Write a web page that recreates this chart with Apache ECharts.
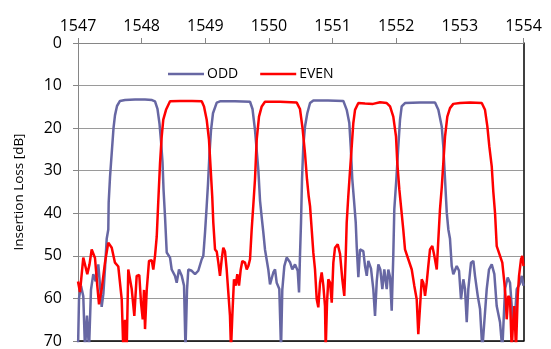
<!DOCTYPE html>
<html>
<head>
<meta charset="utf-8">
<script src="https://cdn.jsdelivr.net/npm/echarts@6/dist/echarts.min.js"></script>
<style>html,body{margin:0;padding:0;background:#fff}#c{width:551px;height:349px}</style>
</head>
<body>
<div id="c"></div>
<script>
const xTicks = [1547, 1548, 1549, 1550, 1551, 1552, 1553, 1554];
const yTicks = [0, 10, 20, 30, 40, 50, 60, 70];
const seriesNames = ['ODD', 'EVEN'];

const oddWl = [1547.000,1547.016,1547.047,1547.083,1547.110,1547.141,1547.173,1547.204,1547.240,1547.278,1547.319,1547.346,1547.372,1547.398,1547.424,1547.451,1547.476,1547.482,1547.503,1547.534,1547.558,1547.581,1547.613,1547.660,1547.739,1547.896,1548.053,1548.163,1548.210,1548.249,1548.281,1548.304,1548.328,1548.344,1548.367,1548.394,1548.446,1548.472,1548.524,1548.551,1548.587,1548.630,1548.666,1548.689,1548.713,1548.733,1548.787,1548.839,1548.890,1548.944,1548.969,1548.996,1549.022,1549.043,1549.066,1549.090,1549.121,1549.180,1549.231,1549.467,1549.703,1549.742,1549.781,1549.833,1549.860,1549.887,1549.912,1549.938,1549.990,1550.017,1550.048,1550.069,1550.096,1550.122,1550.163,1550.190,1550.210,1550.242,1550.279,1550.331,1550.367,1550.410,1550.452,1550.473,1550.488,1550.504,1550.520,1550.540,1550.567,1550.603,1550.646,1550.698,1550.929,1551.169,1551.222,1551.263,1551.285,1551.310,1551.337,1551.364,1551.379,1551.405,1551.431,1551.483,1551.510,1551.537,1551.562,1551.604,1551.640,1551.667,1551.694,1551.719,1551.750,1551.782,1551.813,1551.851,1551.876,1551.903,1551.929,1551.954,1551.970,1552.002,1552.033,1552.060,1552.086,1552.138,1552.374,1552.610,1552.662,1552.715,1552.740,1552.767,1552.794,1552.819,1552.845,1552.872,1552.897,1552.951,1552.987,1553.018,1553.055,1553.081,1553.108,1553.133,1553.175,1553.212,1553.238,1553.281,1553.317,1553.353,1553.384,1553.422,1553.458,1553.501,1553.542,1553.579,1553.631,1553.667,1553.710,1553.752,1553.788,1553.815,1553.840,1553.867,1553.894,1553.945,1553.972,1554.000];
const oddLoss = [72,60,57,59.5,72,64,72,58,54.3,56,52,57,62,59,53,46,43.8,37.5,31.5,25,20,17,14.8,13.6,13.4,13.3,13.3,13.4,13.7,15.5,19,23,28,34.4,40.7,49.2,50.4,53.2,54.7,56.3,53.2,54.7,57,72,58,53.2,53.5,54.3,53.5,50.8,50,44.5,38.3,33,26,20.5,16.5,14,13.7,13.7,13.8,15.5,20.4,29.7,37,41,44.5,48.5,53.2,56.7,57,53.9,53.2,56.3,57.8,72,58,52.4,50.4,51.5,53.2,52,53.5,58.6,50,42.2,32,24.3,19.6,16.5,14.1,13.5,13.5,13.6,15.7,18.8,24.3,32,37,42.2,47.7,55,48.5,48.9,52.4,54.7,51.2,53,57.8,64.1,56,52,53.2,57.8,53.2,57.8,53.2,55,62.9,50,39.1,32,24.3,18,14.9,14.1,14.0,14.0,15.7,19.6,24.3,32,39.8,43.8,46,52.4,54.3,52.4,53.5,60.2,55.5,57.8,65.6,57.8,51.6,51.2,54.7,59.4,62.5,72,65.6,57.8,53.2,52,54.3,61.8,65.6,72,57.8,55.1,56.3,61.8,67.2,64,57.8,56.5,54.7,57];

const evenWl = [1547.000,1547.031,1547.083,1547.110,1547.146,1547.181,1547.215,1547.267,1547.303,1547.330,1547.372,1547.424,1547.476,1547.530,1547.581,1547.633,1547.687,1547.712,1547.739,1547.765,1547.790,1547.817,1547.844,1547.885,1547.922,1547.963,1547.990,1548.017,1548.037,1548.053,1548.080,1548.116,1548.158,1548.183,1548.210,1548.237,1548.262,1548.289,1548.315,1548.340,1548.383,1548.446,1548.603,1548.791,1548.944,1548.980,1549.022,1549.058,1549.085,1549.109,1549.126,1549.153,1549.180,1549.205,1549.231,1549.258,1549.283,1549.310,1549.336,1549.362,1549.388,1549.404,1549.425,1549.451,1549.478,1549.503,1549.530,1549.557,1549.582,1549.624,1549.651,1549.676,1549.703,1549.729,1549.755,1549.781,1549.808,1549.844,1549.887,1549.938,1550.174,1550.437,1550.488,1550.528,1550.567,1550.598,1550.625,1550.646,1550.672,1550.698,1550.724,1550.751,1550.776,1550.803,1550.829,1550.855,1550.881,1550.892,1550.913,1550.933,1550.960,1550.987,1551.012,1551.038,1551.081,1551.117,1551.153,1551.184,1551.207,1551.222,1551.247,1551.274,1551.301,1551.326,1551.353,1551.405,1551.510,1551.636,1551.746,1551.851,1551.903,1551.954,1551.997,1552.017,1552.049,1552.086,1552.112,1552.138,1552.190,1552.244,1552.284,1552.322,1552.347,1552.374,1552.401,1552.426,1552.453,1552.479,1552.504,1552.531,1552.567,1552.599,1552.637,1552.662,1552.688,1552.715,1552.740,1552.767,1552.803,1552.845,1552.897,1553.002,1553.160,1553.344,1553.395,1553.432,1553.463,1553.501,1553.526,1553.553,1553.579,1553.631,1553.667,1553.699,1553.721,1553.736,1553.762,1553.788,1553.815,1553.835,1553.856,1553.882,1553.909,1553.930,1553.961,1553.982,1554.000];
const evenLoss = [56,58.5,50.4,50,54.3,52,48.5,50.5,57,61.4,57.8,51.6,46.9,48.1,51.6,52.5,60.2,72,65,72,53.2,53.2,57.8,64.1,54.7,54.5,61,64.9,58,67.2,58,51.2,51,53.2,50,45.5,37,28.2,22,18,15.7,13.7,13.6,13.6,13.7,14.9,18,22.7,29.7,36,42.2,48.5,49,51.6,54.7,50.8,48.1,49,53.2,58.6,64.1,72,64,55.5,57,54.3,57,53.2,51.2,51.6,53.2,52.4,50.8,43.8,38,32,22.7,17.3,14.9,13.8,13.8,14,15.5,20,26,32,36,38.3,43.8,49.3,53.2,60.2,62.1,56.3,53.9,57,61.8,72,61,55.5,56.3,61,51.6,48.1,47.3,49.5,55.5,59.4,50,42.2,36,30,24.3,18.8,15.7,14.1,14.2,14.3,13.9,14.1,14.9,17.3,22,28.2,34.4,40,44,48.5,50.8,53.2,57,60.2,68.4,62,55.5,56.3,59.4,56.3,52.4,48.5,47.7,50,53.2,46.1,39,34,28.2,22,17.3,15.3,14.3,14.1,14.0,14.1,15.7,19.6,24.3,29,35,40,47.7,50,51.6,56.3,60.2,64.9,59.4,60,72,66,61.8,72,59.4,54.7,50.8,50,52.4];

const toPairs = (xs, ys) => xs.map((x, i) => [x, ys[i]]);
const FONT = 'Open Sans';
const chart = echarts.init(document.getElementById('c'), null, {renderer: 'canvas'});
chart.setOption({
  animation: false,
  backgroundColor: '#fff',
  textStyle: {fontFamily: FONT},
  legend: {
    left: 163, top: 62,
    itemWidth: 36, itemHeight: 14, itemGap: 22,
    textStyle: {fontFamily: FONT, fontSize: 14, color: '#000', padding: [0,0,0,-2]},
    data: seriesNames.map(n => ({name: n, icon: 'path://M0,6 L36,6 L36,8.5 L0,8.5 Z'}))
  },
  grid: {left: 78, right: 27.5, top: 43, bottom: 8, containLabel: false},
  xAxis: [{
    type: 'value', position: 'top', min: xTicks[0], max: xTicks[xTicks.length-1], interval: 1,
    axisLine: {show: true, onZero: false, lineStyle: {color: '#868686', width: 1}},
    axisTick: {show: true, inside: false, length: 5, lineStyle: {color: '#868686'}},
    axisLabel: {fontFamily: FONT, fontSize: 16, color: '#000', margin: 9, formatter: v => String(v)},
    splitLine: {show: false}
  }, {
    type: 'value', position: 'bottom', min: xTicks[0], max: xTicks[xTicks.length-1],
    axisLine: {show: true, onZero: false, lineStyle: {color: '#000', width: 1.5}},
    axisTick: {show: false}, axisLabel: {show: false}, splitLine: {show: false}
  }],
  yAxis: [{
    type: 'value', inverse: true, min: yTicks[0], max: yTicks[yTicks.length-1], interval: 10,
    name: 'Insertion Loss [dB]', nameLocation: 'middle', nameGap: 52,
    nameTextStyle: {fontFamily: FONT, fontSize: 13.5, color: '#000'},
    axisLine: {show: true, onZero: false, lineStyle: {color: '#868686', width: 1}},
    axisTick: {show: true, inside: false, length: 5, lineStyle: {color: '#868686'}},
    axisLabel: {fontFamily: FONT, fontSize: 16, color: '#000', margin: 16},
    splitLine: {show: true, lineStyle: {color: '#9a9a9a', width: 1}}
  }, {
    type: 'value', inverse: true, position: 'right', min: yTicks[0], max: yTicks[yTicks.length-1],
    axisLine: {show: true, onZero: false, lineStyle: {color: '#000', width: 1.5}},
    axisTick: {show: false}, axisLabel: {show: false}, splitLine: {show: false}
  }],
  series: [{
    name: seriesNames[0], type: 'line', xAxisIndex: 0, yAxisIndex: 0,
    data: toPairs(oddWl, oddLoss), symbol: 'none', clip: true,
    lineStyle: {color: '#6767a3', width: 2.5}, itemStyle: {color: '#6767a3'}
  }, {
    name: seriesNames[1], type: 'line', xAxisIndex: 0, yAxisIndex: 0,
    data: toPairs(evenWl, evenLoss), symbol: 'none', clip: true,
    lineStyle: {color: '#ff0000', width: 2.5}, itemStyle: {color: '#ff0000'}
  }]
});
</script>
</body>
</html>
